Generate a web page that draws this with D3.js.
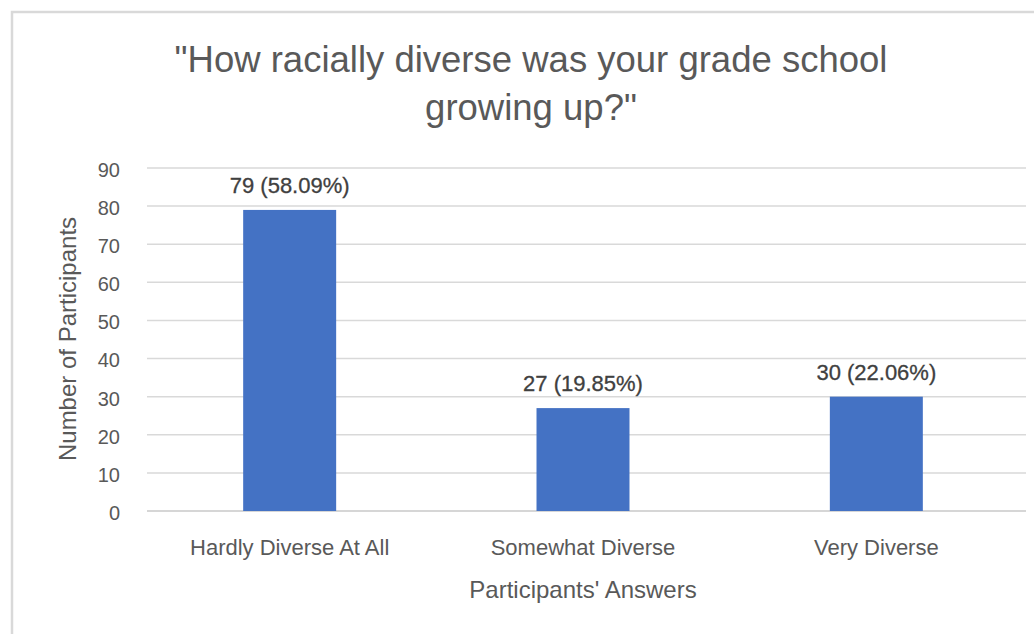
<!DOCTYPE html>
<html>
<head>
<meta charset="utf-8">
<script src="https://cdn.jsdelivr.net/npm/d3@7"></script>
<style>
  html, body { margin: 0; padding: 0; background: #ffffff; }
  svg { display: block; font-family: "Liberation Sans", Arial, sans-serif; }
</style>
</head>
<body>
<svg id="chart" width="1034" height="634"></svg>
<script>
const categories = ["Hardly Diverse At All", "Somewhat Diverse", "Very Diverse"];
const counts = [79, 27, 30];
const percentLabels = ["58.09%", "19.85%", "22.06%"];
const yTicks = [0, 10, 20, 30, 40, 50, 60, 70, 80, 90];
const titleLines = ["\"How racially diverse was your grade school", "growing up?\""];
const xAxisTitle = "Participants' Answers";
const yAxisTitle = "Number of Participants";

const svg = d3.select("#chart");
const W = 1034, H = 634;
const plot = { left: 147, right: 1026, top: 168, bottom: 511 };

svg.append("rect").attr("x", 0).attr("y", 0).attr("width", W).attr("height", H).attr("fill", "#ffffff");
// outer chart frame
svg.append("rect").attr("x", 12).attr("y", 12).attr("width", 1040).attr("height", 640)
  .attr("fill", "none").attr("stroke", "#d9d9d9").attr("stroke-width", 2.5);

const x = d3.scaleBand().domain(categories).range([143, 1023])
  .paddingInner(0.683).paddingOuter(0.3415);
const y = d3.scaleLinear().domain([0, 90]).range([plot.bottom, plot.top]);

// gridlines
svg.append("g").selectAll("line").data(yTicks).join("line")
  .attr("x1", plot.left).attr("x2", plot.right)
  .attr("y1", d => y(d)).attr("y2", d => y(d))
  .attr("stroke", d => d === 0 ? "#c8c8c8" : "#d9d9d9").attr("stroke-width", 1.5);

// y axis labels
const yAxis = d3.axisLeft(y).tickValues(yTicks).tickSize(0).tickPadding(27);
const gy = svg.append("g").attr("transform", `translate(${plot.left},0)`).call(yAxis);
gy.select(".domain").remove();
gy.selectAll("text").attr("font-size", 20).attr("fill", "#595959")
  .attr("font-family", "\"Liberation Sans\", Arial, sans-serif").attr("dy", "0.42em");

// bars
svg.append("g").selectAll("rect").data(counts).join("rect")
  .attr("x", (d, i) => x(categories[i]))
  .attr("y", d => y(d))
  .attr("width", x.bandwidth())
  .attr("height", d => y(0) - y(d))
  .attr("fill", "#4472c4");

// data labels
svg.append("g").selectAll("text").data(counts).join("text")
  .attr("x", (d, i) => x(categories[i]) + x.bandwidth() / 2)
  .attr("y", d => y(d) - 17)
  .attr("text-anchor", "middle")
  .attr("font-size", 22).attr("fill", "#404040")
  .attr("stroke", "#404040").attr("stroke-width", 0.3)
  .text((d, i) => `${d} (${percentLabels[i]})`);

// x axis labels
const xAxis = d3.axisBottom(x).tickSize(0).tickPadding(0);
const gx = svg.append("g").attr("transform", `translate(0,${plot.bottom})`).call(xAxis);
gx.select(".domain").remove();
gx.selectAll("text").attr("font-size", 22).attr("fill", "#595959")
  .attr("font-family", "\"Liberation Sans\", Arial, sans-serif")
  .attr("dy", null).attr("y", 44);

// axis titles
svg.append("text").attr("x", 583).attr("y", 598)
  .attr("text-anchor", "middle").attr("font-size", 24).attr("fill", "#595959")
  .text(xAxisTitle);
svg.append("text").attr("transform", "translate(76,339) rotate(-90)")
  .attr("text-anchor", "middle").attr("font-size", 24).attr("fill", "#595959")
  .text(yAxisTitle);

// title
svg.append("g").selectAll("text").data(titleLines).join("text")
  .attr("x", 531).attr("y", (d, i) => 72 + i * 48)
  .attr("text-anchor", "middle").attr("font-size", 36.5).attr("fill", "#595959")
  .text(d => d);
</script>
</body>
</html>
